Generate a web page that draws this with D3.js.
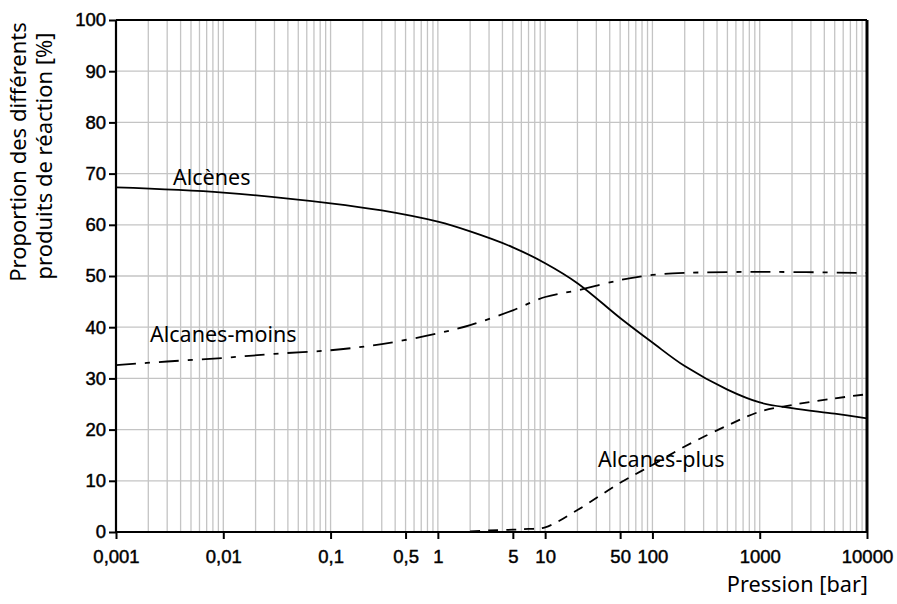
<!DOCTYPE html>
<html><head><meta charset="utf-8">
<script src="https://cdn.jsdelivr.net/npm/d3@7"></script>
<style>body{margin:0;background:#fff}svg{display:block}</style>
</head><body>
<script>
const xTickValues = [0.001, 0.01, 0.1, 0.5, 1, 5, 10, 50, 100, 1000, 10000];
const xTickLabels = ["0,001", "0,01", "0,1", "0,5", "1", "5", "10", "50", "100", "1000", "10000"];
const yTickValues = [0, 10, 20, 30, 40, 50, 60, 70, 80, 90, 100];

const alcenesP = [0.001, 0.01, 0.1, 0.3, 1, 2, 5, 10, 20, 50, 100, 200, 500, 1000, 2000, 5000, 10000];
const alcenesV = [67.3, 66.3, 64.2, 62.8, 60.6, 58.7, 55.6, 52.5, 48.6, 41.8, 37.0, 32.4, 27.8, 25.3, 24.2, 23.1, 22.2];

const moinsP = [0.001, 0.003, 0.01, 0.03, 0.1, 0.3, 1, 2, 5, 10, 20, 50, 100, 200, 1000, 10000];
const moinsV = [32.6, 33.3, 34.0, 34.8, 35.5, 36.7, 38.8, 40.4, 43.3, 45.9, 47.2, 49.2, 50.2, 50.6, 50.8, 50.6];

const plusP = [2, 3, 5, 7, 10, 20, 50, 100, 200, 500, 1000, 2000, 5000, 10000];
const plusV = [0.1, 0.3, 0.45, 0.6, 0.9, 4.3, 9.6, 13.1, 16.7, 20.8, 23.5, 24.8, 26.1, 26.9];

const W = 897, H = 604;
const svg = d3.select("body").append("svg").attr("width", W).attr("height", H);
const x = d3.scaleLog().domain([0.001, 10000]).range([116, 867]);
const y = d3.scaleLinear().domain([0, 100]).range([532, 20]);

// vertical grid
const gridX = [];
for (let e = -3; e < 4; e++) for (let m = 1; m <= 9; m++) gridX.push(m * Math.pow(10, e));
svg.append("g").selectAll("line").data(gridX.filter(v => v > 0.001)).join("line")
  .attr("x1", d => x(d)).attr("x2", d => x(d)).attr("y1", y(100)).attr("y2", y(0))
  .attr("stroke", "#c4c4c4").attr("stroke-width", 1.3);
svg.append("g").selectAll("line").data(yTickValues.filter(v => v > 0 && v < 100)).join("line")
  .attr("x1", x(0.001)).attr("x2", x(10000)).attr("y1", d => y(d)).attr("y2", d => y(d))
  .attr("stroke", "#c4c4c4").attr("stroke-width", 1.3);

// axes
const xAxis = d3.axisBottom(x).tickValues(xTickValues).tickFormat((d, i) => xTickLabels[i]).tickSize(7).tickPadding(6);
const gx = svg.append("g").attr("transform", `translate(0,${y(0)})`).call(xAxis);
const yAxis = d3.axisLeft(y).tickValues(yTickValues).tickSize(7).tickPadding(3);
const gy = svg.append("g").attr("transform", `translate(${x(0.001)},0)`).call(yAxis);
[gx, gy].forEach(g => {
  g.select(".domain").remove();
  g.selectAll(".tick line").attr("stroke", "#000").attr("stroke-width", 2);
  g.selectAll(".tick text").attr("fill", "#000").attr("stroke", "#000").attr("stroke-width", 0.45)
    .style("font-family", "'Liberation Sans', Arial, sans-serif").style("font-size", "18.5px");
});
gx.selectAll(".tick text").attr("dy", "0.95em");

// frame
svg.append("line").attr("x1", x(0.001)).attr("x2", x(10000)).attr("y1", y(100)).attr("y2", y(100)).attr("stroke", "#000").attr("stroke-width", 1.8);
svg.append("line").attr("x1", x(0.001)).attr("x2", x(10000)).attr("y1", y(0)).attr("y2", y(0)).attr("stroke", "#000").attr("stroke-width", 2.2);
svg.append("line").attr("x1", x(0.001)).attr("x2", x(0.001)).attr("y1", y(100)).attr("y2", y(0)).attr("stroke", "#000").attr("stroke-width", 2.2);
svg.append("line").attr("x1", x(10000)).attr("x2", x(10000)).attr("y1", y(100)).attr("y2", y(0)).attr("stroke", "#000").attr("stroke-width", 3);

const line = d3.line().x(d => x(d[0])).y(d => y(d[1])).curve(d3.curveCatmullRom.alpha(0.5));
const z = (a, b) => a.map((v, i) => [v, b[i]]);
svg.append("path").attr("d", line(z(alcenesP, alcenesV))).attr("fill", "none").attr("stroke", "#000").attr("stroke-width", 1.8);
svg.append("path").attr("d", line(z(moinsP, moinsV))).attr("fill", "none").attr("stroke", "#000").attr("stroke-width", 1.8)
  .attr("stroke-dasharray", "20,9,5,9");
svg.append("path").attr("d", line(z(plusP, plusV))).attr("fill", "none").attr("stroke", "#000").attr("stroke-width", 1.8)
  .attr("stroke-dasharray", "10,8");

const lf = "'Noto Sans', 'Open Sans', sans-serif";
const lab = (t, px, py, size, anchor) => svg.append("text").text(t).attr("x", px).attr("y", py)
  .attr("font-family", lf).attr("font-size", size).attr("text-anchor", anchor || "start").attr("fill", "#000");
lab("Alcènes", 173, 185, 21.5);
lab("Alcanes-moins", 150, 342, 21.5);
lab("Alcanes-plus", 598, 467, 21.5);
lab("Pression [bar]", 868, 592, 21.7, "end");

const yt = svg.append("text").attr("transform", "rotate(-90)")
  .attr("font-family", lf).attr("font-size", 22).attr("text-anchor", "middle").attr("fill", "#000");
yt.append("tspan").attr("x", -152).attr("y", 26).text("Proportion des différents");
yt.append("tspan").attr("x", -156).attr("y", 52).text("produits de réaction [%]");
</script>
</body></html>
